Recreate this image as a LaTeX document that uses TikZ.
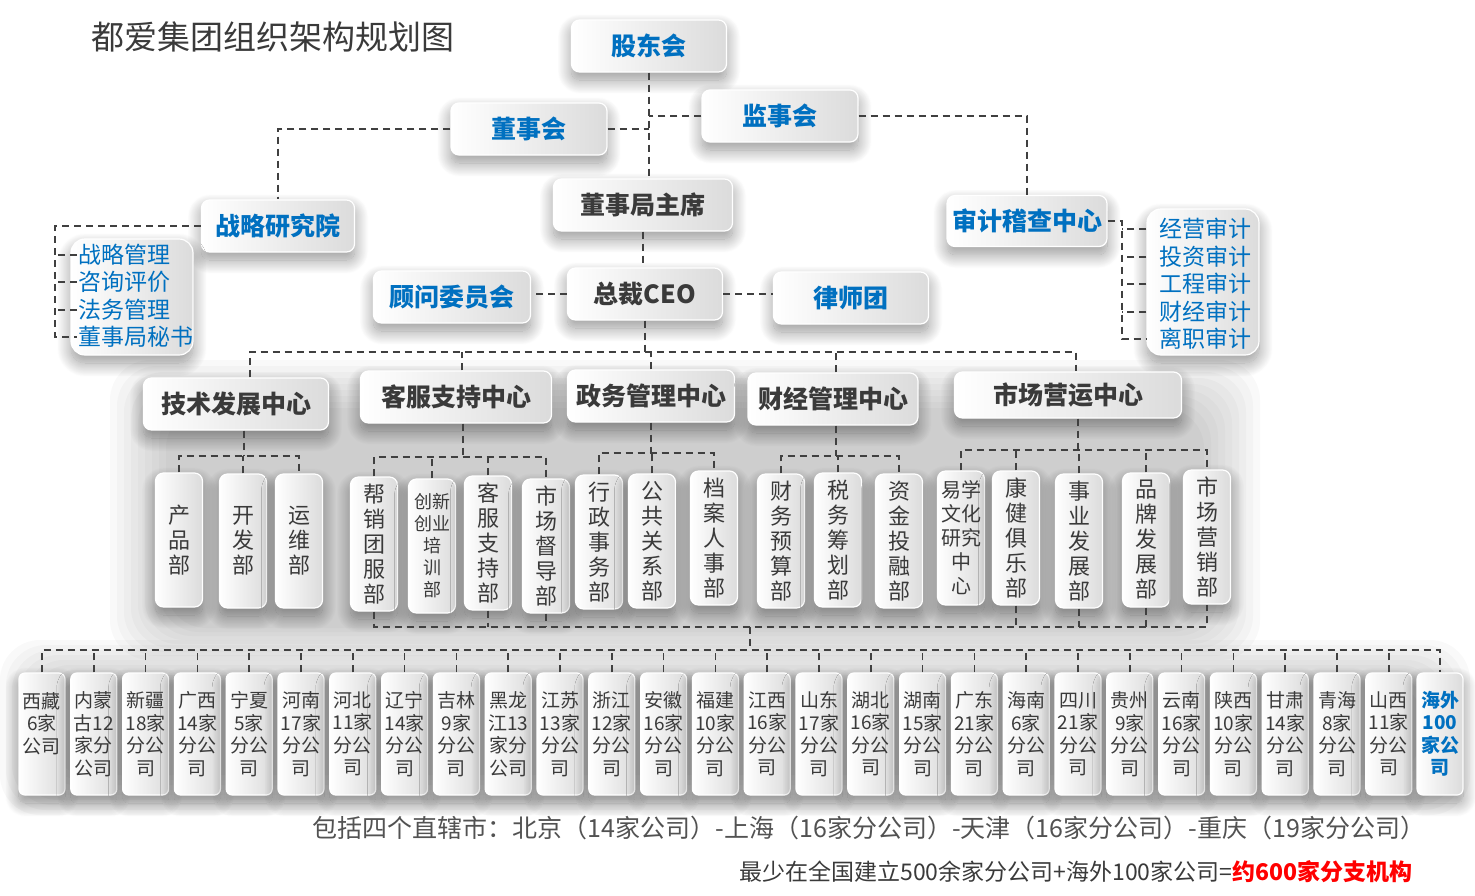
\documentclass[tikz,border=0pt]{standalone}
\usepackage{fontspec}
\setmainfont{Noto Sans CJK SC}
\usetikzlibrary{positioning, shadows.blur}
\definecolor{blueT}{RGB}{0,112,192}
\definecolor{darkT}{RGB}{58,58,58}
\tikzset{
  softshadow/.style={blur shadow={shadow xshift=0pt, shadow yshift=-8pt, shadow blur radius=14pt,
    shadow blur steps=24, shadow opacity=42}},
  box/.style={rounded corners=8pt, draw=white, line width=1.2pt,
    left color=white, right color=black!14, inner sep=2pt, softshadow},
  topbox/.style={box, minimum height=52pt, text=blueT, font=\fontsize{25}{30}\selectfont\bfseries},
  midbox/.style={box, minimum height=52pt, text=darkT, font=\fontsize{25}{30}\selectfont\bfseries},
  dept/.style={box, minimum width=47pt, minimum height=134pt, text=darkT, align=center,
    inner sep=1pt, font=\fontsize{22}{25}\selectfont},
  prov/.style={box, minimum width=46pt, minimum height=122pt, text=darkT, align=center,
    inner sep=1pt, rounded corners=6pt, font=\fontsize{19}{22.5}\selectfont},
  item/.style={anchor=west, text=blueT, inner sep=1pt, font=\fontsize{23}{26}\selectfont},
  conn/.style={draw=black!75, line width=1.6pt, dash pattern=on 7pt off 5pt},
  haze/.style={fill=black, opacity=0.022, rounded corners=40pt},
}
\begin{document}
\begin{tikzpicture}[x=1pt, y=-1pt]
\useasboundingbox (0,0) rectangle (1475,895);

% grey haze behind the lower rows
\foreach \k in {0,...,8} {
  \fill[haze] ({110+\k*7},{360+\k*6}) rectangle ({1260-\k*7},{660-\k*4});
  \fill[haze] ({0+\k*6},{640+\k*5}) rectangle ({1470-\k*6},{815-\k*5});
}

% title
\node[anchor=west, text=darkT, font=\fontsize{33}{38}\selectfont] (title) at (88,37) {都爱集团组织架构规划图};

% board level
\node[topbox, minimum width=155pt] (gd) at (649,46) {股东会};
\node[topbox, minimum width=156pt] (dsh) at (529,129) {董事会};
\node[topbox, minimum width=156pt] (jsh) at (780,116) {监事会};
\node[midbox, minimum width=179pt] (zx) at (643,205) {董事局主席};
\node[topbox, minimum width=153pt] (zl) at (278,226) {战略研究院};
\node[topbox, minimum width=160pt, minimum height=51pt] (sj) at (1027,221) {审计稽查中心};
\node[topbox, minimum width=157pt] (gw) at (452,297) {顾问委员会};
\node[midbox, minimum width=155pt] (ceo) at (645,294) {总裁CEO};
\node[topbox, minimum width=155pt] (ls) at (851,298) {律师团};

% side lists
\node[box, rounded corners=14pt, minimum width=122pt, minimum height=116pt] (lbox) at (132,297) {};
\node[box, rounded corners=14pt, minimum width=112pt, minimum height=146pt] (rbox) at (1203,282) {};
\node[item] (s1) at (77,255) {战略管理};
\node[item] (s2) at (77,282) {咨询评价};
\node[item] (s3) at (77,310) {法务管理};
\node[item] (s4) at (77,337) {董事局秘书};
\node[item] (r1) at (1158,229) {经营审计};
\node[item] (r2) at (1158,257) {投资审计};
\node[item] (r3) at (1158,284) {工程审计};
\node[item] (r4) at (1158,312) {财经审计};
\node[item] (r5) at (1158,339) {离职审计};

% centres
\node[midbox, minimum width=185pt] (c1) at (236,404) {技术发展中心};
\node[midbox, minimum width=191pt] (c2) at (456,397) {客服支持中心};
\node[midbox, minimum width=167pt] (c3) at (651,396) {政务管理中心};
\node[midbox, minimum width=170pt] (c4) at (833,399) {财经管理中心};
\node[midbox, minimum width=227pt, minimum height=46pt] (c5) at (1068,395) {市场营运中心};

% departments
\node[dept] (d11) at (179,540) {产\\品\\部};
\node[dept] (d12) at (243,541) {开\\发\\部};
\node[dept] (d13) at (299,541) {运\\维\\部};
\node[dept] (d21) at (374,544) {帮\\销\\团\\服\\部};
\node[dept, font=\fontsize{18}{22}\selectfont] (d22) at (432,546) {创新\\创业\\培\\训\\部};
\node[dept] (d23) at (488,543) {客\\服\\支\\持\\部};
\node[dept] (d24) at (546,546) {市\\场\\督\\导\\部};
\node[dept] (d31) at (599,542) {行\\政\\事\\务\\部};
\node[dept] (d32) at (652,541) {公\\共\\关\\系\\部};
\node[dept] (d33) at (714,538) {档\\案\\人\\事\\部};
\node[dept] (d41) at (781,541) {财\\务\\预\\算\\部};
\node[dept] (d42) at (838,540) {税\\务\\筹\\划\\部};
\node[dept] (d43) at (899,541) {资\\金\\投\\融\\部};
\node[dept, font=\fontsize{20}{24}\selectfont] (d51) at (961,538) {易学\\文化\\研究\\中\\心};
\node[dept] (d52) at (1016,538) {康\\健\\俱\\乐\\部};
\node[dept] (d53) at (1079,541) {事\\业\\发\\展\\部};
\node[dept] (d54) at (1146,540) {品\\牌\\发\\展\\部};
\node[dept] (d55) at (1207,537) {市\\场\\营\\销\\部};

% branch offices
\foreach \t [count=\i] in {{西藏\\6家\\公司\\\mbox{}}, {内蒙\\古12\\家分\\公司}, {新疆\\18家\\分公\\司},
  {广西\\14家\\分公\\司}, {宁夏\\5家\\分公\\司}, {河南\\17家\\分公\\司}, {河北\\11家\\分公\\司},
  {辽宁\\14家\\分公\\司}, {吉林\\9家\\分公\\司}, {黑龙\\江13\\家分\\公司}, {江苏\\13家\\分公\\司},
  {浙江\\12家\\分公\\司}, {安徽\\16家\\分公\\司}, {福建\\10家\\分公\\司}, {江西\\16家\\分公\\司},
  {山东\\17家\\分公\\司}, {湖北\\16家\\分公\\司}, {湖南\\15家\\分公\\司}, {广东\\21家\\分公\\司},
  {海南\\6家\\分公\\司}, {四川\\21家\\分公\\司}, {贵州\\9家\\分公\\司}, {云南\\16家\\分公\\司},
  {陕西\\10家\\分公\\司}, {甘肃\\14家\\分公\\司}, {青海\\8家\\分公\\司}, {山西\\11家\\分公\\司}}
  \node[prov] (p\i) at ({42+(\i-1)*51.8},734) {\t};
\node[prov, text=blueT, font=\fontsize{19}{22.5}\selectfont\bfseries] (p28) at (1440,734) {海外\\100\\家公\\司};

% footer
\node[text=black!68, font=\fontsize{25}{29}\selectfont] (f1) at (869,828)
  {包括四个直辖市：北京（14家公司）-上海（16家分公司）-天津（16家分公司）-重庆（19家分公司）};
\node[anchor=east, text=darkT, font=\fontsize{23}{28}\selectfont] (f2) at (1416,872)
  {最少在全国建立500余家分公司+海外100家公司=\textcolor{red}{\bfseries 约600家分支机构}};

% connectors
\draw[conn] (gd.south) -- (gd.south |- zx.north);
\draw[conn] (dsh.east) -- (dsh.east -| gd.south);
\draw[conn] (jsh.west) -- (jsh.west -| gd.south);
\draw[conn] (dsh.west) -| (zl.north);
\draw[conn] (jsh.east) -| (sj.north);
\draw[conn] (zx.south) -- (zx.south |- ceo.north);
\draw[conn] (ceo.west) -- (ceo.west -| gw.east);
\draw[conn] (ceo.east) -- (ceo.east -| ls.west);

\coordinate (lb) at (55,0);
\draw[conn] (zl.west) -| (lb |- s4.west) -- (s4.west);
\foreach \n in {s1,s2,s3} \draw[conn] (\n.west) -- (\n.west -| lb);
\coordinate (rb) at (1122,0);
\draw[conn] (sj.east) -| (rb |- r5.west) -- (r5.west -| rbox.west);
\foreach \n in {r1,r2,r3,r4} \draw[conn] (\n.west -| rbox.west) -- (\n.west -| rb);

\coordinate (b0) at (651,352);
\draw[conn] (ceo.south) -- (ceo.south |- b0);
\draw[conn] ([xshift=14pt]c1.north) |- (b0) -| ([xshift=8pt]c5.north);
\draw[conn] ([xshift=6pt]c2.north) -- ([xshift=6pt]c2.north |- b0);
\draw[conn] (c3.north) -- (c3.north |- b0);
\draw[conn] ([xshift=3pt]c4.north) -- ([xshift=3pt]c4.north |- b0);

\coordinate (b1) at (244,456);
\draw[conn] (c1.south -| b1) -- (b1);
\draw[conn] (d11.north) |- (b1) -| (d13.north);
\draw[conn] (d12.north) -- (d12.north |- b1);
\coordinate (b2) at (463,457);
\draw[conn] (c2.south -| b2) -- (b2);
\draw[conn] (d21.north) |- (b2) -| (d24.north);
\foreach \n in {d22,d23} \draw[conn] (\n.north) -- (\n.north |- b2);
\coordinate (b3) at (651,453);
\draw[conn] (c3.south) -- (c3.south |- b3);
\draw[conn] (d31.north) |- (b3) -| (d33.north);
\draw[conn] (d32.north) -- (d32.north |- b3);
\coordinate (b4) at (836,456);
\draw[conn] (c4.south -| b4) -- (b4);
\draw[conn] (d41.north) |- (b4) -| (d43.north);
\draw[conn] (d42.north) -- (d42.north |- b4);
\coordinate (b5) at (1078,450);
\draw[conn] (c5.south -| b5) -- (b5);
\draw[conn] (d51.north) |- (b5) -| (d55.north);
\foreach \n in {d52,d53,d54} \draw[conn] (\n.north) -- (\n.north |- b5);

\coordinate (b6) at (750,627);
\draw[conn] (d21.south) |- (b6) -| (d55.south);
\foreach \n in {d23,d24,d52,d53,d54} \draw[conn] (\n.south) -- (\n.south |- b6);
\coordinate (b7) at (750,650);
\draw[conn] (b6) -- (b7);
\draw[conn] (p1.north) |- (b7) -| (p28.north);
\foreach \i in {2,...,27} \draw[conn] (p\i.north) -- (p\i.north |- b7);
\end{tikzpicture}
\end{document}
